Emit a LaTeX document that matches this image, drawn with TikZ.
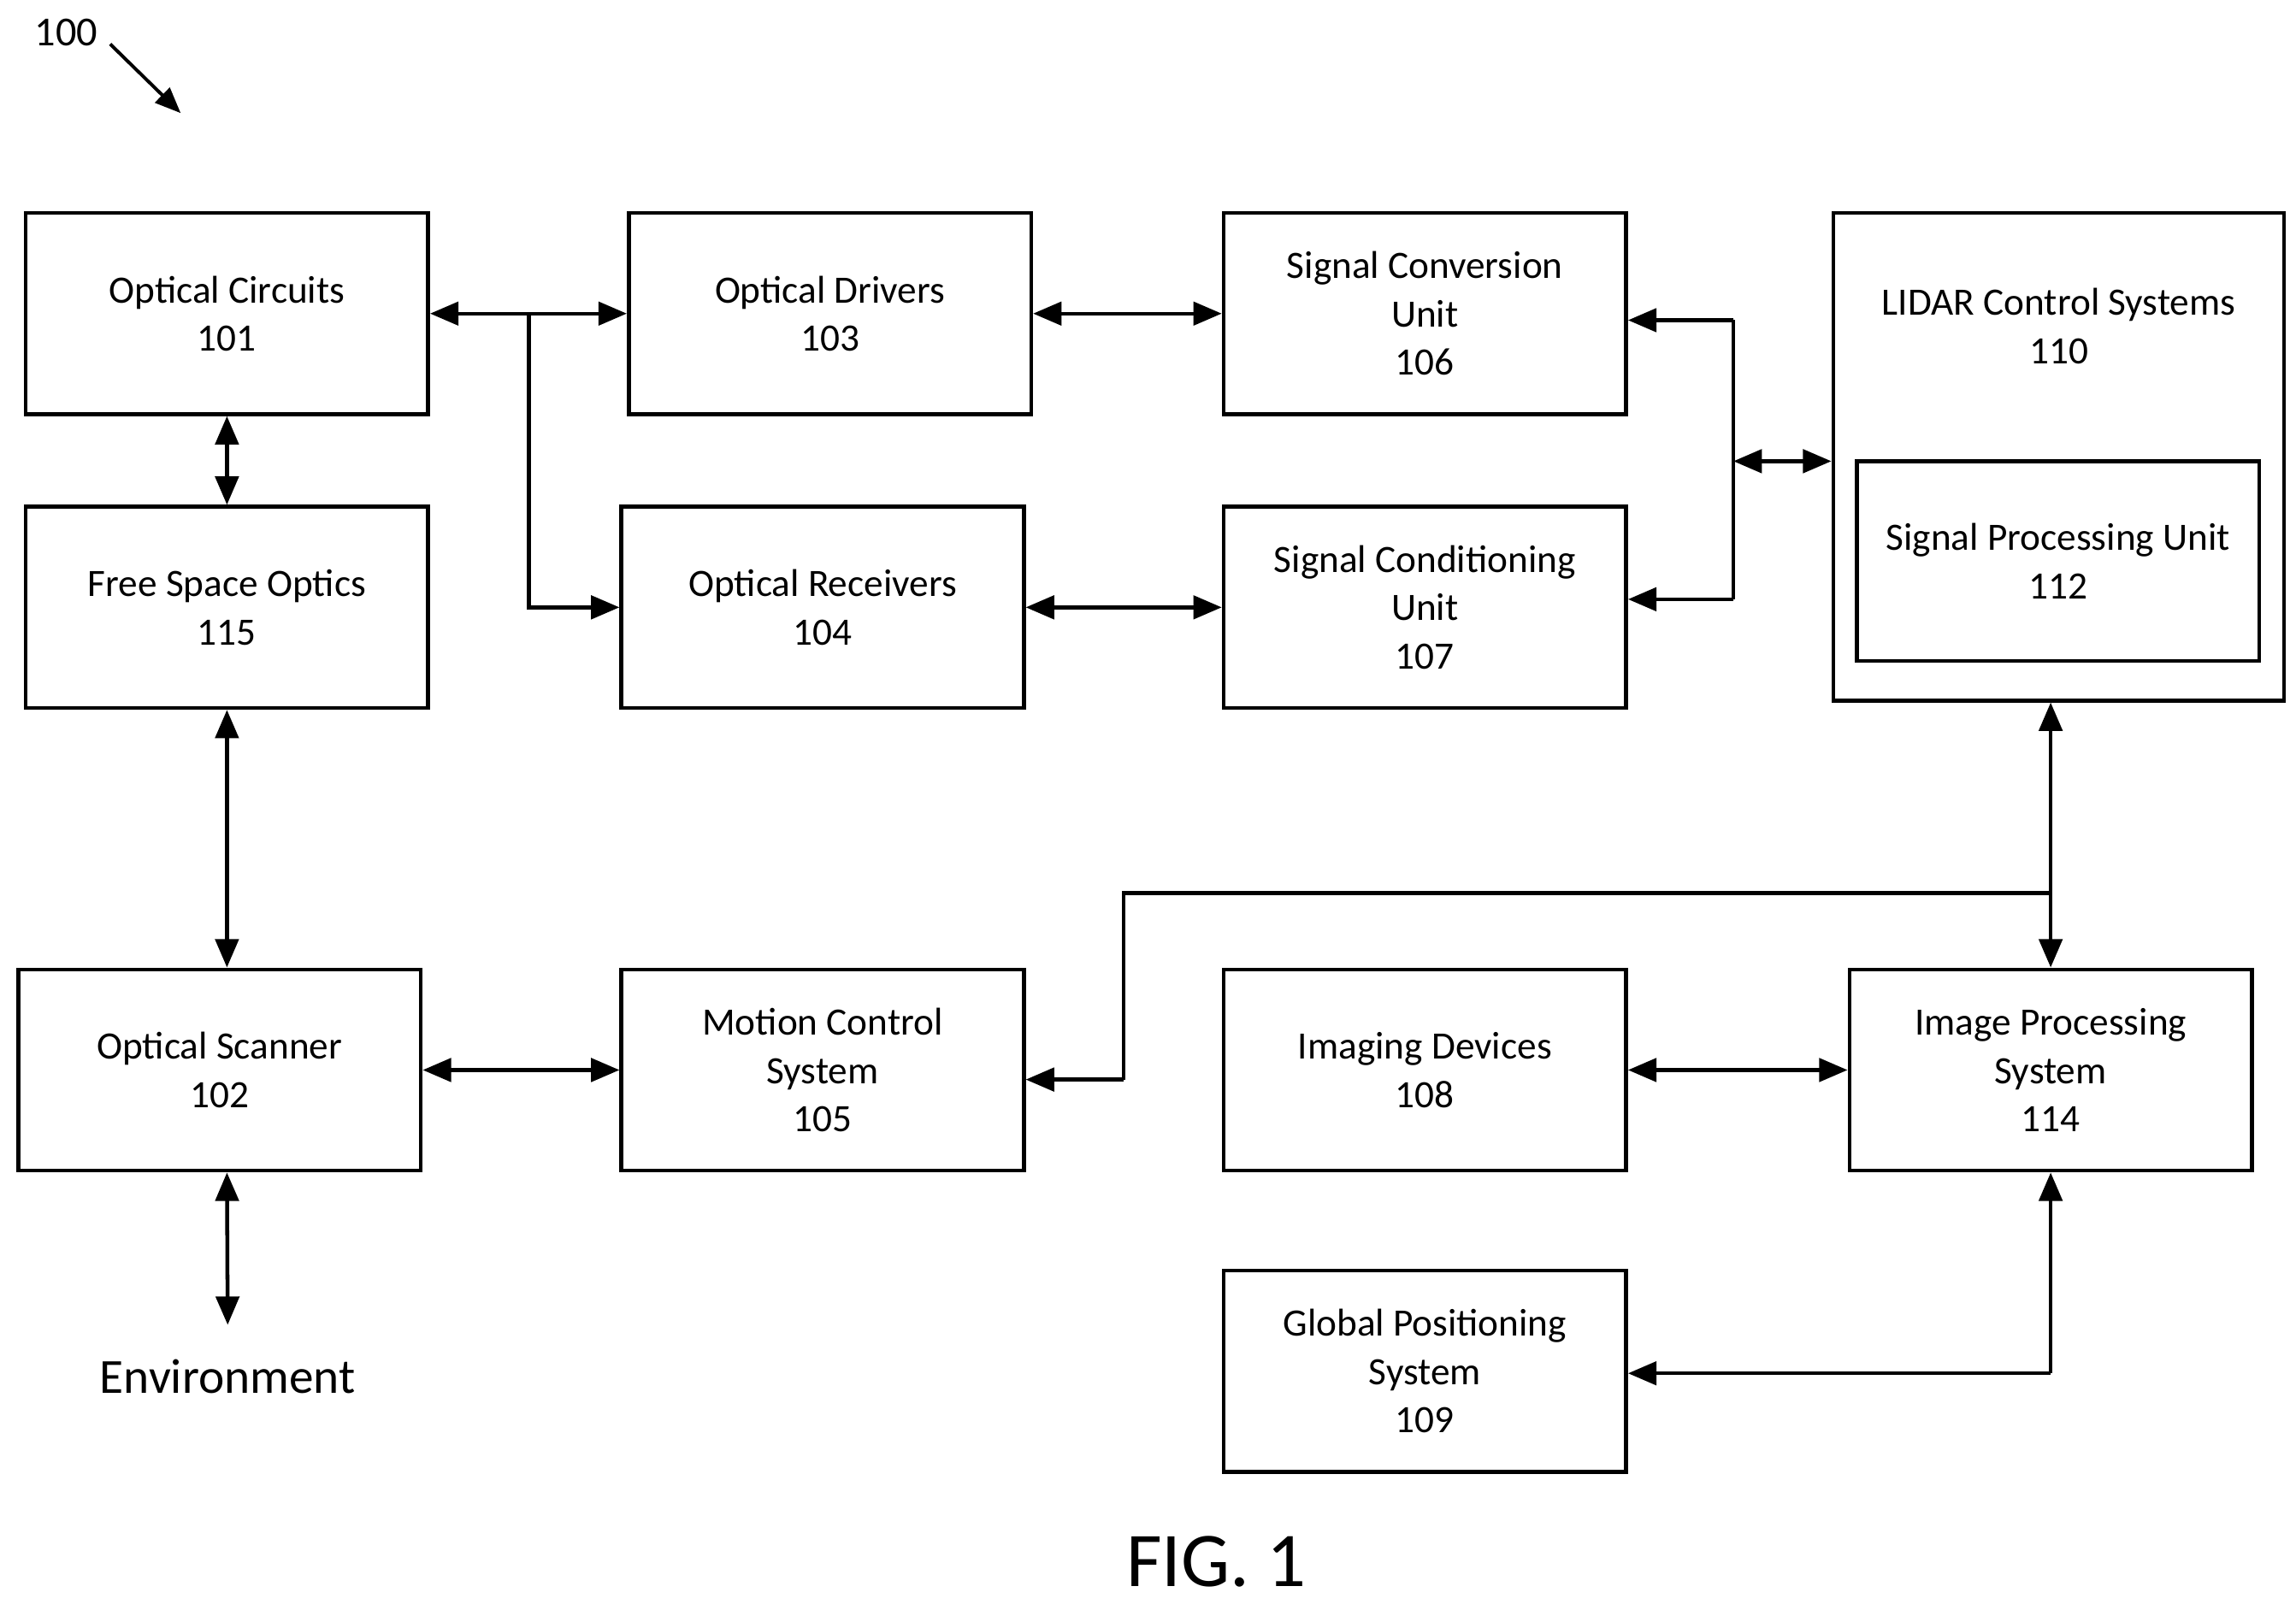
\documentclass[tikz,border=0pt]{standalone}
\usepackage{fontspec}
\setmainfont{Carlito}
\usetikzlibrary{arrows.meta}
\begin{document}
\begin{tikzpicture}[x=0.02cm,y=-0.02cm,
 box/.style={draw,line width=1.5pt,minimum width=5.48cm,minimum height=2.74cm,align=center,font=\fontsize{15}{18.7}\selectfont,inner sep=0pt},
 con/.style={line width=1.5pt,{Triangle[length=11pt,width=9pt]}-{Triangle[length=11pt,width=9pt]}},
 one/.style={line width=1.5pt,-{Triangle[length=11pt,width=9pt]}},
 ln/.style={line width=1.5pt}]
\useasboundingbox (0,0) rectangle (1563,1092);
\node[box] (n101) at (154.5,213.5) {Optical Circuits\\101};
\node[box] (n103) at (565,213.5) {Optical Drivers\\103};
\node[box] (n106) at (970,213.5) {Signal Conversion\\Unit\\106};
\node[draw,line width=1.5pt,minimum width=6.14cm,minimum height=6.64cm] (n110) at (1401.5,311) {};
\node[align=center,font=\fontsize{15}{18.7}\selectfont] (t110) at (1401.5,222) {LIDAR Control Systems\\110};
\node[box,minimum width=5.48cm,minimum height=2.72cm] (n112) at (1401,382) {Signal Processing Unit\\112};
\node[box] (n115) at (154.5,413.5) {Free Space Optics\\115};
\node[box] (n104) at (560,413.5) {Optical Receivers\\104};
\node[box] (n107) at (970,413.5) {Signal Conditioning\\Unit\\107};
\node[box] (n102) at (149.5,728.5) {Optical Scanner\\102};
\node[box] (n105) at (560,728.5) {Motion Control\\System\\105};
\node[box] (n108) at (970,728.5) {Imaging Devices\\108};
\node[box] (n114) at (1396,728.5) {Image Processing\\System\\114};
\node[box] (n109) at (970,933.5) {Global Positioning\\System\\109};
\node[font=\fontsize{19}{22}\selectfont] (env) at (155,937) {Environment};
\node[font=\fontsize{30}{34}\selectfont] (fig) at (828,1063) {FIG. 1};
\node[font=\fontsize{16}{19}\selectfont] (lbl) at (45,22) {100};
\coordinate (a1) at (75,30); \coordinate (a2) at (123,77);
\draw[line width=1.3pt,-{Triangle[length=10pt,width=8pt]}] (a1) -- (a2);
\draw[con] (n101.east) -- (n103.west);
\coordinate (b1) at (360,213);
\draw[one] (b1) |- (n104.west);
\draw[con] (n103.east) -- (n106.west);
\draw[con] (n104.east) -- (n107.west);
\coordinate (s1) at (1180,218); \coordinate (s2) at (1180,408); \coordinate (s3) at (1180,314);
\draw[one] (s1) -- (n106.east|-s1);
\draw[ln] (s1) -- (s2);
\draw[one] (s2) -- (n107.east|-s2);
\draw[con] (s3) -- (n110.west|-s3);
\draw[con] (n101.south) -- (n115.north);
\draw[con] (n115.south) -- (n115.south|-n102.north);
\coordinate (e1) at (155,902);
\draw[con] (n115.south|-n102.south) -- (e1);
\draw[con] (n102.east) -- (n105.west);
\draw[con] (n110.south-|n114.north) -- (n114.north);
\coordinate (m1) at (1396,608); \coordinate (m2) at (765,608); \coordinate (m3) at (765,735);
\draw[ln] (m1) -- (m2) -- (m3);
\draw[one] (m3) -- (n105.east|-m3);
\draw[con] (n108.east) -- (n114.west);
\coordinate (g1) at (1396,935);
\draw[one] (g1) -- (n114.south);
\draw[one] (g1) -- (n109.east|-g1);
\end{tikzpicture}
\end{document}
